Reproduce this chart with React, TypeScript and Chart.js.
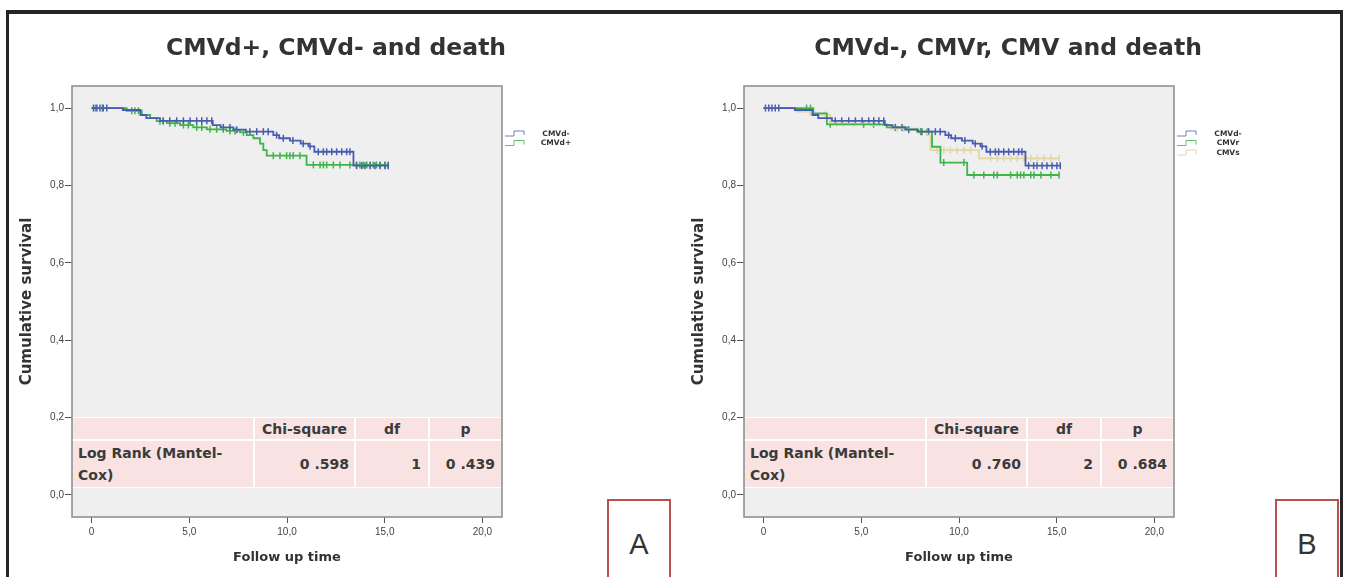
import React, { useEffect, useRef } from 'react';
import { Chart, registerables } from 'chart.js';

Chart.register(...registerables);

// ---------- text ----------
const titleA = 'CMVd+, CMVd- and death';
const titleB = 'CMVd-, CMVr, CMV and death';
const xTitle = 'Follow up time';
const yTitle = 'Cumulative survival';

// ---------- ticks ----------
const xTickValues = [0, 5, 10, 15, 20];
const xTickLabels = ['0', '5,0', '10,0', '15,0', '20,0'];
const yTickValues = [0, 0.2, 0.4, 0.6, 0.8, 1.0];
const yTickLabels = ['0,0', '0,2', '0,4', '0,6', '0,8', '1,0'];

// ---------- CMVd- (same group in both panels) ----------
const cmvdMinusT = [0, 1.6, 2.5, 2.8, 3.5, 6.2, 6.6, 7.25, 7.9, 9.3, 9.6, 10.15, 10.7, 11.1, 11.4, 13.4, 15.18];
const cmvdMinusS = [1, 0.995, 0.982, 0.974, 0.967, 0.956, 0.95, 0.944, 0.939, 0.93, 0.922, 0.916, 0.908, 0.901, 0.887, 0.851, 0.851];
const cmvdMinusCensT = [0.1, 0.27, 0.43, 0.6, 0.78, 3.67, 4.0, 4.36, 4.7, 5.04, 5.38, 5.64, 5.9, 6.15, 6.74, 7.08, 7.43, 8.1, 8.45, 8.79, 9.04, 9.47, 9.81, 10.3, 10.83, 11.18, 11.6, 11.86, 12.03, 12.29, 12.54, 12.8, 13.05, 13.22, 13.56, 13.82, 13.99, 14.25, 14.5, 14.76, 15.01, 15.18];
const cmvdMinusCensS = [1, 1, 1, 1, 1, 0.967, 0.967, 0.967, 0.967, 0.967, 0.967, 0.967, 0.967, 0.967, 0.95, 0.95, 0.944, 0.939, 0.939, 0.939, 0.939, 0.93, 0.922, 0.916, 0.908, 0.901, 0.887, 0.887, 0.887, 0.887, 0.887, 0.887, 0.887, 0.887, 0.851, 0.851, 0.851, 0.851, 0.851, 0.851, 0.851, 0.851];

// ---------- CMVd+ (panel A) ----------
const cmvdPlusT = [0, 1.8, 2.57, 3.0, 3.33, 3.85, 4.53, 5.2, 5.9, 6.9, 7.6, 7.94, 8.28, 8.62, 8.79, 8.96, 11.0, 15.18];
const cmvdPlusS = [1, 0.993, 0.982, 0.974, 0.966, 0.961, 0.956, 0.95, 0.945, 0.941, 0.937, 0.93, 0.922, 0.908, 0.891, 0.877, 0.853, 0.853];
const cmvdPlusCensT = [0.2, 0.55, 2.06, 2.22, 2.4, 3.5, 3.67, 4.0, 4.27, 4.7, 4.95, 5.38, 5.64, 6.06, 6.4, 6.74, 7.08, 7.34, 7.77, 9.3, 9.64, 9.98, 10.15, 10.32, 10.66, 11.35, 11.69, 11.86, 12.03, 12.37, 12.71, 13.22, 13.56, 13.73, 13.9, 14.08, 14.25, 14.41, 14.58, 14.76, 15.01, 15.18];
const cmvdPlusCensS = [1, 1, 0.993, 0.993, 0.993, 0.966, 0.966, 0.961, 0.961, 0.956, 0.956, 0.95, 0.95, 0.945, 0.945, 0.945, 0.941, 0.941, 0.937, 0.877, 0.877, 0.877, 0.877, 0.877, 0.877, 0.853, 0.853, 0.853, 0.853, 0.853, 0.853, 0.853, 0.853, 0.853, 0.853, 0.853, 0.853, 0.853, 0.853, 0.853, 0.853, 0.853];

// ---------- CMVr (panel B) ----------
const cmvrT = [0, 2.55, 3.24, 6.3, 7.34, 7.86, 8.62, 9.05, 10.42, 15.12];
const cmvrS = [1, 0.986, 0.958, 0.95, 0.945, 0.939, 0.9, 0.859, 0.827, 0.827];
const cmvrCensT = [2.2, 2.4, 3.41, 5.12, 5.63, 8.03, 8.37, 9.22, 10.25, 10.76, 11.27, 11.78, 11.96, 12.64, 12.98, 13.15, 13.32, 13.67, 13.84, 14.19, 14.7, 15.12];
const cmvrCensS = [1, 1, 0.958, 0.958, 0.958, 0.939, 0.939, 0.859, 0.859, 0.827, 0.827, 0.827, 0.827, 0.827, 0.827, 0.827, 0.827, 0.827, 0.827, 0.827, 0.827, 0.827];

// ---------- CMVs (panel B) ----------
const cmvsT = [0, 1.7, 2.38, 3.41, 5.46, 6.49, 7.86, 8.37, 8.54, 11.02, 15.12];
const cmvsS = [1, 0.991, 0.983, 0.96, 0.956, 0.947, 0.939, 0.93, 0.891, 0.87, 0.87];
const cmvsCensT = [3.15, 3.75, 4.09, 4.6, 5.12, 6.83, 7.17, 8.88, 9.22, 9.56, 9.91, 10.25, 10.59, 11.62, 11.96, 12.3, 12.64, 12.98, 13.32, 13.67, 14.01, 14.35, 14.7, 15.12];
const cmvsCensS = [0.983, 0.96, 0.96, 0.96, 0.96, 0.947, 0.947, 0.891, 0.891, 0.891, 0.891, 0.891, 0.891, 0.87, 0.87, 0.87, 0.87, 0.87, 0.87, 0.87, 0.87, 0.87, 0.87, 0.87];

// ---------- tables ----------
const tableHeader = ['', 'Chi-square', 'df', 'p'];
const rowLabelLines = ['Log Rank (Mantel-', 'Cox)'];
const statsA = ['0 .598', '1', '0 .439'];
const statsB = ['0 .760', '2', '0 .684'];

const BLUE = '#4a5cb0';
const GREEN = '#3db548';
const TAN = '#e2d6a4';

const W = 672;
const H = 577;

type Series = { label: string; t: number[]; s: number[]; ct: number[]; cs: number[]; color: string; icon: string };

const seriesA: Series[] = [
  { label: 'CMVd-', t: cmvdMinusT, s: cmvdMinusS, ct: cmvdMinusCensT, cs: cmvdMinusCensS, color: BLUE, icon: '#6f80c4' },
  { label: 'CMVd+', t: cmvdPlusT, s: cmvdPlusS, ct: cmvdPlusCensT, cs: cmvdPlusCensS, color: GREEN, icon: '#62c06b' },
];
const seriesB: Series[] = [
  { label: 'CMVd-', t: cmvdMinusT, s: cmvdMinusS, ct: cmvdMinusCensT, cs: cmvdMinusCensS, color: BLUE, icon: '#6f80c4' },
  { label: 'CMVr', t: cmvrT, s: cmvrS, ct: cmvrCensT, cs: cmvrCensS, color: GREEN, icon: '#62c06b' },
  { label: 'CMVs', t: cmvsT, s: cmvsS, ct: cmvsCensT, cs: cmvsCensS, color: TAN, icon: '#e0d6ae' },
];

const FONT_BOLD = "'DejaVu Sans', sans-serif";
const FONT_TICK = "'Liberation Sans', Arial, sans-serif";

function buildDatasets(series: Series[]) {
  const ds: any[] = [];
  series.forEach((s) => {
    ds.push({
      label: s.label,
      data: s.t.map((t, i) => ({ x: t, y: s.s[i] })),
      borderColor: s.color,
      backgroundColor: s.color,
      borderWidth: 1.8,
      stepped: 'before',
      pointRadius: 0,
      fill: false,
      xAxisID: 'x',
      yAxisID: 'y',
    });
  });
  series.forEach((s) => {
    ds.push({
      label: s.label + ' censored',
      data: s.ct.map((t, i) => ({ x: t, y: s.cs[i] })),
      showLine: false,
      borderColor: s.color,
      backgroundColor: s.color,
      pointStyle: 'line',
      rotation: 90,
      pointRadius: 3.5,
      pointBorderWidth: 1.5,
      pointBorderColor: s.color,
      xAxisID: 'x',
      yAxisID: 'y',
    });
  });
  return ds;
}

function Panel(props: { left: number; title: string; series: Series[]; stats: string[]; letter: string; boxLeft: number }) {
  const ref = useRef<HTMLCanvasElement>(null);
  useEffect(() => {
    const series = props.series;
    const framePlugin = {
      id: 'frame',
      beforeDraw(chart: any) {
        const { left, top, right, bottom } = chart.chartArea;
        const ctx = chart.ctx;
        ctx.save();
        ctx.fillStyle = '#efefef';
        ctx.fillRect(left, top, right - left, bottom - top);
        ctx.restore();
      },
      afterDraw(chart: any) {
        const { left, top, right, bottom } = chart.chartArea;
        const ctx = chart.ctx;
        ctx.save();
        ctx.strokeStyle = '#8a8a8a';
        ctx.lineWidth = 1.5;
        ctx.strokeRect(left, top, right - left, bottom - top);
        // legend
        series.forEach((s, i) => {
          const y = top + 48 + i * 9.5;
          const x0 = right + 3;
          ctx.strokeStyle = s.icon;
          ctx.lineWidth = 1;
          ctx.beginPath();
          ctx.moveTo(x0, y + 2);
          ctx.lineTo(x0 + 9, y + 2);
          ctx.lineTo(x0 + 9, y - 3);
          ctx.lineTo(x0 + 19, y - 3);
          ctx.lineTo(x0 + 19, y + 1);
          ctx.stroke();
          ctx.fillStyle = '#333';
          ctx.font = "bold 7.5px 'DejaVu Sans'";
          ctx.textAlign = 'center';
          ctx.textBaseline = 'middle';
          ctx.fillText(s.label, right + 54, y);
        });
        ctx.restore();
      },
    };

    const chart = new Chart(ref.current as HTMLCanvasElement, {
      type: 'line',
      data: { datasets: buildDatasets(series) },
      plugins: [framePlugin],
      options: {
        animation: false,
        responsive: false,
        devicePixelRatio: 1,
        layout: { padding: 0 },
        plugins: {
          legend: { display: false },
          tooltip: { enabled: false },
          title: {
            display: true,
            text: props.title,
            color: '#333',
            font: { family: FONT_BOLD, size: 23.5, weight: 'bold' },
            padding: { top: 35, bottom: 22.8 },
          },
        },
        scales: {
          x: {
            type: 'linear',
            position: 'bottom',
            min: -1,
            max: 21,
            afterBuildTicks: (sc: any) => {
              sc.ticks = xTickValues.map((v) => ({ value: v }));
            },
            afterFit: (sc: any) => {
              sc.height = 60;
            },
            ticks: {
              callback: (_v: any, i: number) => xTickLabels[i],
              color: '#444',
              font: { family: FONT_TICK, size: 10 },
              padding: 3,
              maxRotation: 0,
            },
            grid: { display: true, drawOnChartArea: false, drawTicks: true, tickLength: 6, tickColor: '#555', tickWidth: 1 },
            border: { display: false },
            title: {
              display: true,
              text: xTitle,
              color: '#333',
              font: { family: FONT_BOLD, size: 13, weight: 'bold' },
              padding: { top: 0, bottom: 12 },
            },
          },
          y: {
            type: 'linear',
            position: 'left',
            min: -0.057,
            max: 1.057,
            afterBuildTicks: (sc: any) => {
              sc.ticks = yTickValues.map((v) => ({ value: v }));
            },
            afterFit: (sc: any) => {
              sc.width = 72;
            },
            ticks: {
              callback: (_v: any, i: number) => yTickLabels[i],
              color: '#444',
              font: { family: FONT_TICK, size: 10 },
              padding: 1,
            },
            grid: { display: true, drawOnChartArea: false, drawTicks: true, tickLength: 7, tickColor: '#555', tickWidth: 1 },
            border: { display: false },
            title: {
              display: true,
              text: yTitle,
              color: '#333',
              font: { family: FONT_BOLD, size: 15, weight: 'bold' },
              padding: { top: 18, bottom: 0 },
            },
          },
          yR: {
            type: 'linear',
            position: 'right',
            display: true,
            afterFit: (sc: any) => {
              sc.width = 170;
            },
            ticks: { display: false },
            grid: { display: false },
            border: { display: false },
          },
        },
      } as any,
    });
    return () => chart.destroy();
  }, []);

  const cellBase: React.CSSProperties = {
    background: '#f8e2e2',
    display: 'flex',
    alignItems: 'center',
    boxSizing: 'border-box',
  };

  return (
    <div style={{ position: 'absolute', left: props.left, top: 0, width: W, height: H }}>
      <canvas ref={ref} width={W} height={H} style={{ position: 'absolute', left: 0, top: 0, width: W, height: H }} />
      <div
        style={{
          position: 'absolute',
          left: 73,
          top: 417,
          width: 428,
          display: 'grid',
          gridTemplateColumns: '180px 99px 72px 71px',
          gridTemplateRows: '21px 46px',
          gap: '2px',
          background: '#ffffff',
          paddingTop: 1,
          paddingBottom: 1,
          fontFamily: FONT_BOLD,
          fontWeight: 'bold',
          fontSize: 14,
          color: '#3a3a3a',
        }}
      >
        {tableHeader.map((h, i) => (
          <div key={'h' + i} style={{ ...cellBase, justifyContent: 'center' }}>{h}</div>
        ))}
        <div style={{ ...cellBase, flexDirection: 'column', alignItems: 'flex-start', justifyContent: 'center', paddingLeft: 5, lineHeight: '22px' }}>
          <span>{rowLabelLines[0]}</span>
          <span>{rowLabelLines[1]}</span>
        </div>
        <div style={{ ...cellBase, justifyContent: 'flex-end', paddingRight: 5 }}>{props.stats[0]}</div>
        <div style={{ ...cellBase, justifyContent: 'flex-end', paddingRight: 7 }}>{props.stats[1]}</div>
        <div style={{ ...cellBase, justifyContent: 'flex-end', paddingRight: 6 }}>{props.stats[2]}</div>
      </div>
      <div
        style={{
          position: 'absolute',
          left: props.boxLeft,
          top: 499,
          width: 64,
          height: 100,
          border: '2px solid #b5524d',
          boxSizing: 'border-box',
          background: '#fff',
        }}
      >
        <div
          style={{
            position: 'absolute',
            left: 0,
            right: 0,
            top: 27,
            textAlign: 'center',
            fontFamily: FONT_TICK,
            fontSize: 29,
            lineHeight: '32px',
            color: '#333',
          }}
        >
          {props.letter}
        </div>
      </div>
    </div>
  );
}

export default function App() {
  return (
    <div style={{ position: 'fixed', left: 0, top: 0, width: 1346, height: 577, overflow: 'hidden', background: '#fff' }}>
      <Panel left={0} title={titleA} series={seriesA} stats={statsA} letter="A" boxLeft={607} />
      <Panel left={672} title={titleB} series={seriesB} stats={statsB} letter="B" boxLeft={603} />
      <div
        style={{
          position: 'absolute',
          left: 6,
          top: 10,
          width: 1337,
          height: 620,
          borderTop: '4px solid #262626',
          borderLeft: '3.5px solid #262626',
          borderRight: '3.5px solid #262626',
          boxSizing: 'border-box',
          pointerEvents: 'none',
        }}
      />
    </div>
  );
}
